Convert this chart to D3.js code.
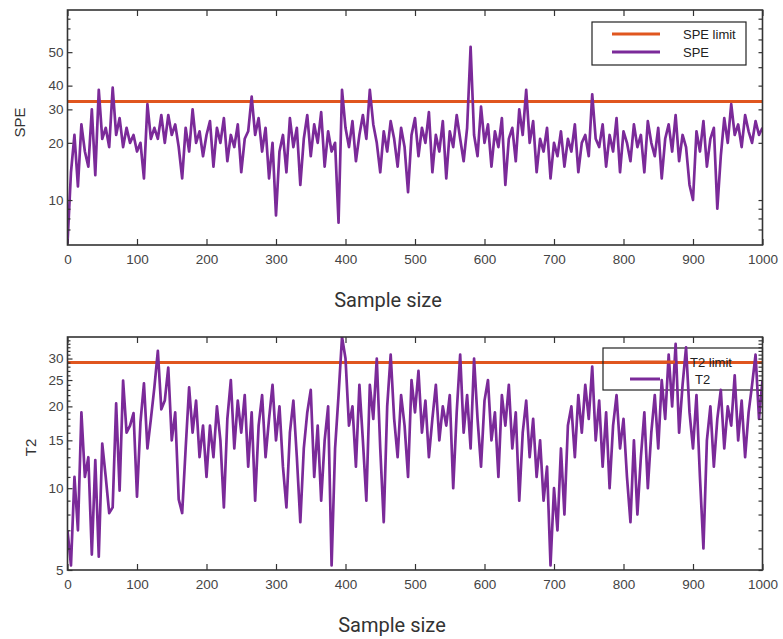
<!DOCTYPE html>
<html>
<head>
<meta charset="utf-8">
<script src="https://cdnjs.cloudflare.com/ajax/libs/d3/7.8.5/d3.min.js"></script>
<style>
    body { margin: 0; background: #fff; }
    svg { display: block; }
</style>
</head>
<body>
<div id="svg-container"></div>
<script>
//==============================
// DATA (one value every 5 samples)
//==============================
const samples = d3.range(0, 1001, 5);

const speValues = [
    5.9, 14, 22, 11.8, 25, 18, 15, 30, 13.5, 38,
    21, 24, 19, 39, 22, 27, 19, 24, 20, 22,
    18, 20, 13, 32, 21, 24, 21, 28, 20, 28,
    22, 25, 19, 13, 24, 18, 30, 20, 23, 17,
    22, 26, 15, 24, 20, 27, 16, 22, 19, 25,
    14, 21, 23, 35, 22, 27, 18, 24, 13, 20,
    8.3, 18, 22, 14, 27, 19, 24, 12, 21, 28,
    17, 25, 20, 29, 15, 23, 18, 20, 7.6, 38,
    24, 19, 26, 16, 22, 28, 21, 38, 25, 20,
    14, 23, 18, 26, 21, 15, 24, 19, 11, 22,
    27, 17, 24, 20, 29, 14, 22, 18, 26, 13,
    23, 19, 28, 21, 16, 24, 64, 22, 17, 31,
    20, 25, 15, 23, 19, 27, 12, 21, 24, 16,
    30, 22, 38, 20, 26, 14, 21, 18, 24, 13,
    20, 17, 23, 15, 21, 18, 25, 14, 20, 22,
    17, 36, 21, 19, 25, 15, 22, 18, 27, 14,
    23, 20, 16, 25, 19, 22, 14, 26, 20, 17,
    24, 13, 21, 25, 18, 28, 16, 22, 19, 12,
    10, 23, 18, 26, 15, 21, 24, 9, 17, 27,
    20, 32, 22, 25, 19, 28, 23, 20, 26, 22,
    24
];

const t2Values = [
    7, 5.2, 11, 7, 19, 11, 13, 5.7, 12.7, 5.6,
    14.6, 11, 8.1, 8.5, 20.5, 9.8, 24.9, 16, 17, 18.9,
    9.3, 17.5, 24.3, 14, 18, 23.5, 32, 19.5, 21, 27.8,
    15, 19, 9.1, 8.1, 14, 23.5, 16, 21, 13, 17,
    11, 17, 13, 20, 15, 8.5, 18, 25, 14, 21,
    16, 22, 12, 19, 9, 17, 22, 13, 18, 24,
    15, 20, 12, 8.5, 16, 21, 13, 7.5, 14, 19,
    23, 11, 17, 9, 15, 20, 5.2, 14, 22, 36,
    30, 17, 20, 12, 24, 15, 9, 24, 18, 30,
    14, 7.5, 20, 31, 18, 13, 22, 17, 11, 25,
    19, 27, 16, 21, 13, 18, 24, 15, 20, 17,
    22, 10, 19, 31, 16, 22, 14, 30, 18, 12,
    21, 25, 15, 19, 11, 22, 17, 24, 14, 19,
    9, 16, 21, 13, 18, 11, 15, 9, 12, 5.2,
    10, 7, 14, 8, 17, 20, 13, 22, 16, 24,
    18, 28, 15, 21, 12, 19, 10, 17, 22, 14,
    18, 11, 7.5, 15, 8, 13, 19, 10, 16, 22,
    14, 25, 18, 31, 20, 34, 16, 24, 33, 19,
    14, 22, 11, 6, 15, 20, 12, 18, 23, 14,
    20, 17, 26, 15, 21, 13, 19, 24, 31, 18,
    25
];

const speLimit = 33;
const t2Limit = 29;

const xTicks = [0, 100, 200, 300, 400, 500, 600, 700, 800, 900, 1000];

// the reference prints "50" where the log axis sits at 60
const speTicks = [10, 20, 30, 40, 60];
const speTickLabels = ["10", "20", "30", "40", "50"];
const speMinorTicks = [7, 8, 9, 50, 70, 80, 90];

const t2Ticks = [5, 10, 15, 20, 25, 30];
const t2TickLabels = ["5", "10", "15", "20", "25", "30"];
const t2MinorTicks = [6, 7, 8, 9, 11, 12, 13, 14, 16, 17, 18, 19, 21, 22, 23, 24, 26, 27, 28, 29, 31, 32, 33, 34, 35];

//==============================
// DRAW
//==============================
const width = 783, height = 639;
const left = 67.5, right = 762.5;
const orange = "#e0561f", purple = "#7b2a99";
const tickFont = "'Liberation Sans Narrow', 'Arial Narrow', 'Liberation Sans', Arial, sans-serif";

const svg = d3.select("#svg-container").append("svg")
    .attr("width", width)
    .attr("height", height);

const x = d3.scaleLinear().domain([0, 1000]).range([left, right]);

/**
 * draw one panel
 * @param {*} p : panel settings (scale, values, ticks, legend)
 */
const drawPanel = (p) => {
    const y = p.y;
    const top = y.range()[1], bottom = y.range()[0];
    const g = svg.append("g");

    const clipId = "clip-" + p.name;
    g.append("clipPath").attr("id", clipId)
        .append("rect")
        .attr("x", left).attr("y", top)
        .attr("width", right - left).attr("height", bottom - top);

    // limit line
    g.append("line")
        .attr("x1", x(0)).attr("x2", x(1000))
        .attr("y1", y(p.limit)).attr("y2", y(p.limit))
        .attr("stroke", orange)
        .attr("stroke-width", 3);

    // legend box (bottom panel: no fill, data runs over it)
    if (!p.legendFill) {
        g.append("rect")
            .attr("x", p.legend.x).attr("y", p.legend.y)
            .attr("width", p.legend.w).attr("height", p.legend.h)
            .attr("fill", "none")
            .attr("stroke", "#222")
            .attr("stroke-width", 1.2);
    }

    // series
    const line = d3.line()
        .x((d, i) => x(samples[i]))
        .y(d => y(d));
    g.append("path")
        .datum(p.values)
        .attr("clip-path", `url(#${clipId})`)
        .attr("d", line)
        .attr("fill", "none")
        .attr("stroke", purple)
        .attr("stroke-width", 2.7)
        .attr("stroke-linejoin", "round");

    // axes, ticks point inwards
    const styleAxis = (a) => {
        a.select(".domain").remove();
        a.selectAll("line").attr("stroke", "#333").attr("stroke-width", 1.2);
        a.selectAll("text")
            .attr("fill", "#444")
            .style("font-family", tickFont)
            .style("font-size", "13.5px");
    };
    g.append("g").attr("transform", `translate(0,${bottom})`)
        .call(d3.axisBottom(x).tickValues(xTicks).tickSize(-6).tickPadding(9).tickFormat(d3.format("d")))
        .call(styleAxis);
    g.append("g").attr("transform", `translate(0,${top})`)
        .call(d3.axisTop(x).tickValues(xTicks).tickSize(-6).tickFormat(""))
        .call(styleAxis);
    g.append("g").attr("transform", `translate(${left},0)`)
        .call(d3.axisLeft(y).tickValues(p.ticks).tickSize(-5).tickPadding(4)
            .tickFormat((d, i) => p.tickLabels[i]))
        .call(styleAxis);
    g.append("g").attr("transform", `translate(${left},0)`)
        .call(d3.axisLeft(y).tickValues(p.minor).tickSize(-3).tickFormat(""))
        .call(styleAxis);
    g.append("g").attr("transform", `translate(${right},0)`)
        .call(d3.axisRight(y).tickValues(p.ticks.concat(p.minor)).tickSize(-4).tickFormat(""))
        .call(styleAxis);

    // frame
    g.append("rect")
        .attr("x", left).attr("y", top)
        .attr("width", right - left).attr("height", bottom - top)
        .attr("fill", "none")
        .attr("stroke", "#333")
        .attr("stroke-width", 1.6);

    // legend
    const lg = p.legend;
    if (p.legendFill) {
        g.append("rect")
            .attr("x", lg.x).attr("y", lg.y)
            .attr("width", lg.w).attr("height", lg.h)
            .attr("fill", "#fff")
            .attr("stroke", "#222")
            .attr("stroke-width", 1.2);
    }
    lg.items.forEach((item, i) => {
        const yy = lg.y + lg.rowY[i];
        g.append("line")
            .attr("x1", lg.lineX[0]).attr("x2", lg.lineX[1] + (item.extra || 0))
            .attr("y1", yy).attr("y2", yy)
            .attr("stroke", item.color)
            .attr("stroke-width", 3);
        g.append("text")
            .attr("x", lg.textX[i])
            .attr("y", yy)
            .attr("dy", "0.35em")
            .attr("fill", "#222")
            .style("font-family", tickFont)
            .style("font-size", "13px")
            .text(item.label);
    });

    // axis titles
    svg.append("text")
        .attr("transform", `translate(${p.titleX},${(top + bottom) / 2 + p.titleDy}) rotate(-90)`)
        .attr("text-anchor", "middle")
        .attr("fill", "#333")
        .style("font-family", "'Liberation Sans', Arial, sans-serif")
        .style("font-size", "15px")
        .text(p.name);
    svg.append("text")
        .attr("x", p.xTitleX)
        .attr("y", bottom + 62)
        .attr("text-anchor", "middle")
        .attr("fill", "#333")
        .style("font-family", "Roboto, 'Noto Sans', sans-serif")
        .style("font-size", "20px")
        .text("Sample size");
};

drawPanel({
    name: "SPE",
    y: d3.scaleLog().domain([5.8, 100]).range([245, 10]),
    values: speValues,
    limit: speLimit,
    ticks: speTicks,
    tickLabels: speTickLabels,
    minor: speMinorTicks,
    legendFill: true,
    legend: {
        x: 592, y: 22, w: 154, h: 43,
        lineX: [612, 660], textX: [683, 683], rowY: [12, 30],
        items: [{ label: "SPE limit", color: orange }, { label: "SPE", color: purple }]
    },
    titleX: 25, titleDy: -5, xTitleX: 388
});

drawPanel({
    name: "T2",
    y: d3.scaleLog().domain([5, 36]).range([570, 337]),
    values: t2Values,
    limit: t2Limit,
    ticks: t2Ticks,
    tickLabels: t2TickLabels,
    minor: t2MinorTicks,
    legendFill: false,
    legend: {
        x: 603, y: 348, w: 159.5, h: 42,
        lineX: [630, 660], textX: [690, 695], rowY: [14, 31],
        items: [{ label: "T2 limit", color: orange, extra: 15 }, { label: "T2", color: purple }]
    },
    titleX: 36, titleDy: -6, xTitleX: 392
});
</script>
</body>
</html>
